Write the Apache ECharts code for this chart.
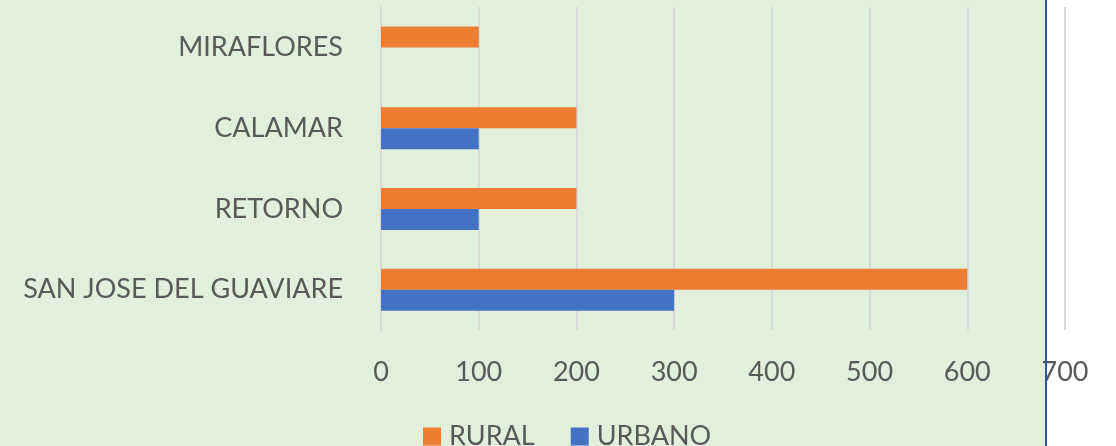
<!DOCTYPE html>
<html><head><meta charset="utf-8">
<script src="https://cdn.jsdelivr.net/npm/echarts@6/dist/echarts.min.js"></script>
<style>html,body{margin:0;padding:0;background:#fff}#c{width:1116px;height:446px}</style>
</head><body><div id="c"></div>
<script>
const categories = ['SAN JOSE DEL GUAVIARE', 'RETORNO', 'CALAMAR', 'MIRAFLORES'];
const rural = [600, 200, 200, 100];
const urbano = [300, 100, 100, 0];
const xTicks = [0, 100, 200, 300, 400, 500, 600, 700];

const FONT = 'Lato';
const TXT = '#595959';
const chart = echarts.init(document.getElementById('c'), null, {renderer: 'canvas'});
chart.setOption({
  backgroundColor: '#ffffff',
  animation: false,
  graphic: {
    elements: [
      {type: 'rect', z: -100, silent: true, shape: {x: 0, y: 0, width: 1045, height: 446}, style: {fill: '#E2EFDA'}},
      {type: 'rect', z: 100, silent: true, shape: {x: 1045, y: 0, width: 2, height: 446}, style: {fill: '#2F5597'}}
    ]
  },
  legend: {
    data: ['RURAL', 'URBANO'],
    left: 418, top: 418,
    itemWidth: 18, itemHeight: 18, itemGap: 36,
    icon: 'rect',
    textStyle: {fontFamily: FONT, fontSize: 27, color: TXT, padding: [0, 0, 0, 3]}
  },
  grid: {left: 381, right: 51, top: 7, bottom: 116, containLabel: false},
  xAxis: {
    type: 'value', min: 0, max: 700, interval: 100,
    axisLine: {show: false}, axisTick: {show: false},
    splitLine: {show: true, lineStyle: {color: '#D9D9D9', width: 2}},
    axisLabel: {fontFamily: FONT, fontSize: 27, color: TXT, margin: 29,
      formatter: v => xTicks.includes(v) ? String(v) : ''}
  },
  yAxis: {
    type: 'category', data: categories,
    axisLine: {show: true, lineStyle: {color: '#D9D9D9', width: 2}},
    axisTick: {show: false},
    axisLabel: {fontFamily: FONT, fontSize: 27, color: TXT, margin: 38}
  },
  series: [
    {name: 'RURAL', type: 'bar', data: rural, barWidth: 21, barGap: '0%', itemStyle: {color: '#ED7D31'}},
    {name: 'URBANO', type: 'bar', data: urbano, barWidth: 21, barGap: '0%', itemStyle: {color: '#4472C4'}}
  ]
});
</script></body></html>
